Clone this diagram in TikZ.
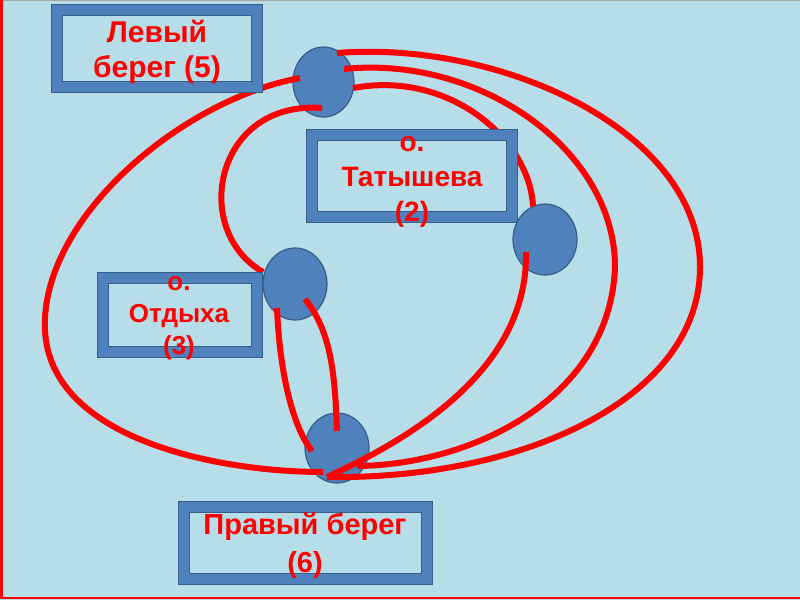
\documentclass[tikz,border=0pt]{standalone}
\usepackage{fontspec}
\setmainfont{Liberation Sans}
\usetikzlibrary{shapes.geometric,calc}
\definecolor{fon}{HTML}{B7DDE8}
\definecolor{sinij}{HTML}{4F81BD}
\definecolor{temno}{HTML}{385D8A}
\definecolor{krasn}{HTML}{FF0000}

\begin{document}
\begin{tikzpicture}[x=1pt, y=-1pt,
  ramka/.style={draw=temno, line width=1pt, double=sinij, double distance=10pt,
                fill=fon, inner sep=0pt},
  krug/.style={ellipse, draw=temno, line width=1.2pt, fill=sinij, inner sep=0pt},
  nadpis/.style={text=krasn, align=center, anchor=base, inner sep=0pt},
  most/.style={krasn, line width=6pt}]
\useasboundingbox (0,0) rectangle (800,600);
\fill[fon] (0,0) rectangle (800,600);
\draw[gray!70, line width=1.5pt] (0,0.5) -- (800,0.5);
\draw[krasn, line width=2.5pt] (1.5,0) -- (1.5,598) -- (800,598);

% islands and banks
\node[krug, minimum width=61pt, minimum height=70pt] (levC) at (323.5,82) {};
\node[krug, minimum width=64pt, minimum height=71pt] (tatC) at (545,239.5) {};
\node[krug, minimum width=64pt, minimum height=72pt] (otdC) at (295,284) {};
\node[krug, minimum width=64pt, minimum height=70pt] (praC) at (337,448) {};

% bridges
\draw[most] ($(levC)+(-23.5,-4)$) .. controls (180,100) and (40,220) .. (45,330)
  .. controls (50,440) and (220,472) .. ($(praC)+(-14,24)$);
\draw[most] ($(levC)+(-1.5,26)$) .. controls (215,100) and (190,230) .. ($(otdC)+(-32,-12)$);
\draw[most] ($(levC)+(13.5,-29)$) .. controls (500,40) and (700,130) .. (700,267)
  .. controls (700,400) and (520,480) .. ($(praC)+(-10,29)$);
\draw[most] ($(levC)+(20.5,-13)$) .. controls (480,55) and (615,150) .. (615,267)
  .. controls (610,400) and (470,465) .. ($(praC)+(20,18)$);
\draw[most] ($(levC)+(29.5,6)$) .. controls (450,70) and (530,140) .. ($(tatC)+(-12,-33)$);
\draw[most] ($(tatC)+(-19,12.5)$) .. controls (528,360) and (430,430) .. ($(praC)+(-10,29)$);
\draw[most] ($(otdC)+(-18,24)$) .. controls (280,380) and (295,430) .. ($(praC)+(-25,3)$);
\draw[most] ($(otdC)+(10,15)$) .. controls (330,330) and (335,370) .. ($(praC)+(0,-17)$);

% frames with names
\node[ramka, minimum width=200pt, minimum height=77pt] (lev) at (157,48) {};
\node[ramka, minimum width=200pt, minimum height=82.5pt] (tat) at (411.5,176) {};
\node[ramka, minimum width=154.5pt, minimum height=73.5pt] (otd) at (180,315) {};
\node[ramka, minimum width=243pt, minimum height=72pt] (pra) at (305,542.5) {};

\node[nadpis, font=\bfseries\fontsize{30}{35}\selectfont] (levT) at (157,77) {Левый\\берег (5)};
\node[nadpis, font=\bfseries\fontsize{28}{35}\selectfont] (tatT) at (412,221) {о.\\Татышева\\(2)};
\node[nadpis, font=\bfseries\fontsize{26}{32}\selectfont] (otdT) at (179,354) {о.\\Отдыха\\(3)};
\node[nadpis, font=\bfseries\fontsize{29}{38}\selectfont] (praT) at (305,572) {Правый берег\\(6)};
\end{tikzpicture}
\end{document}
